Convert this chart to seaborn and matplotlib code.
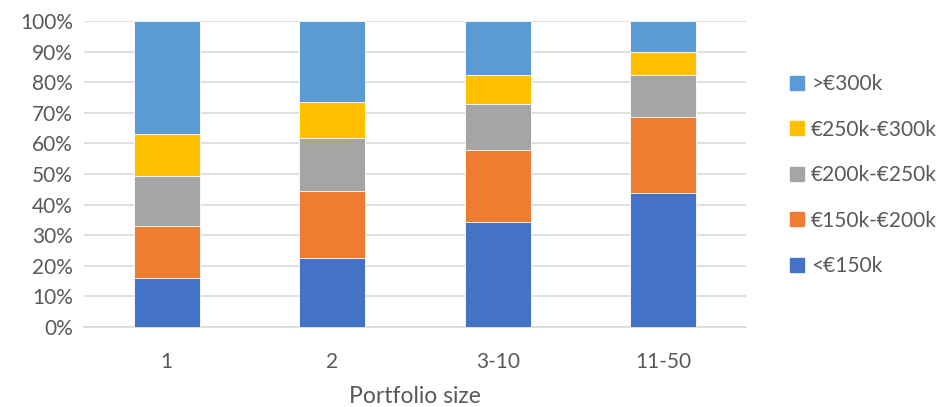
import matplotlib
matplotlib.use("Agg")
import matplotlib.pyplot as plt
import matplotlib.patches as mpatches
import numpy as np
import pandas as pd
import seaborn as sns

# Share of portfolio (%) by property value band
portfolio_sizes = ["1", "2", "3-10", "11-50"]
bands = ["<€150k", "€150k-€200k", "€200k-€250k", "€250k-€300k", ">€300k"]
under_150k = [16.0, 22.7, 34.3, 43.8]
from_150k_to_200k = [17.0, 21.9, 23.4, 24.7]
from_200k_to_250k = [16.4, 17.2, 15.2, 13.9]
from_250k_to_300k = [13.6, 11.8, 9.3, 7.4]
over_300k = [37.0, 26.4, 17.8, 10.2]

colors = ["#4472C4", "#ED7D31", "#A5A5A5", "#FFC000", "#5B9BD5"]

sns.set_theme(style="white")
plt.rcParams["font.family"] = ["Lato", "DejaVu Sans"]
text_color = "#595959"
grid_color = "#D9D9D9"

series = [under_150k, from_150k_to_200k, from_200k_to_250k, from_250k_to_300k, over_300k]
df = pd.DataFrame({"size": portfolio_sizes})
cum = np.zeros(len(portfolio_sizes))
cum_cols = []
for name, vals in zip(bands, series):
    cum = cum + np.array(vals)
    df[name] = cum.copy()
    cum_cols.append(name)

fig = plt.figure(figsize=(9.38, 4.07), dpi=100)
ax = fig.add_axes([84 / 938, (407 - 327) / 407, (746 - 84) / 938, (327 - 21) / 407])

# Draw cumulative totals from the top band down so each layer shows as a stacked segment
for name, color in reversed(list(zip(cum_cols, colors))):
    sns.barplot(data=df, x="size", y=name, color=color, width=0.4,
                edgecolor="white", linewidth=0.6, saturation=1, ax=ax, zorder=3)

ax.set_xlim(-0.5, 3.5)
ax.set_ylim(0, 100)
ax.set_yticks(np.arange(0, 101, 10))
ax.set_yticklabels([f"{v}%" for v in range(0, 101, 10)])
ax.yaxis.grid(True, color=grid_color, linewidth=1.2, zorder=0)
ax.set_axisbelow(True)
for side in ["top", "right", "left"]:
    ax.spines[side].set_visible(False)
ax.spines["bottom"].set_color(grid_color)
ax.spines["bottom"].set_linewidth(1.2)
ax.tick_params(axis="both", length=0, labelsize=15, colors=text_color)
ax.tick_params(axis="x", pad=18)
ax.tick_params(axis="y", pad=8)
ax.set_ylabel("")
ax.set_xlabel("Portfolio size", fontsize=16.5, color=text_color, labelpad=10)

handles = [mpatches.Patch(color=c, label=b) for b, c in zip(bands, colors)]
fig.legend(handles=list(reversed(handles)), loc="upper left",
           bbox_to_anchor=(782 / 938, 1 - 66 / 407), frameon=False,
           fontsize=15, labelcolor=text_color, handlelength=0.65, handleheight=0.65,
           handletextpad=0.35, labelspacing=1.22, borderaxespad=0)

fig.savefig("out.png", dpi=100)
